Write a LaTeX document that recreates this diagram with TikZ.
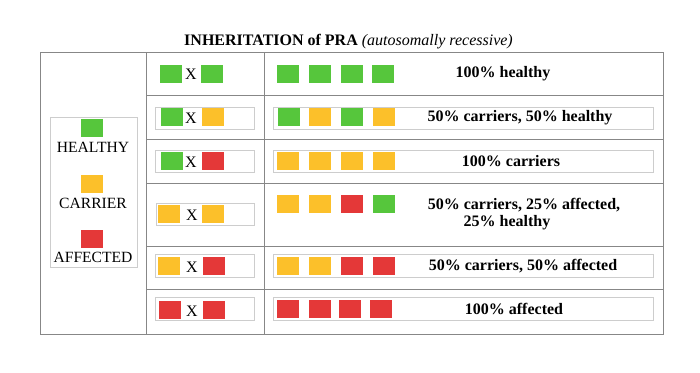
\documentclass[tikz,border=0pt]{standalone}
\usepackage{fontspec}
\setmainfont{Liberation Serif}
\definecolor{hgreen}{RGB}{86,198,60}
\definecolor{corange}{RGB}{252,192,42}
\definecolor{ared}{RGB}{228,56,56}
\definecolor{gridgray}{RGB}{135,135,135}
\definecolor{boxgray}{RGB}{205,205,205}
\newcommand{\csq}[4]{\node[sqbox, fill=#2] (#1) at (#3,#4) {};}
\begin{document}
\begin{tikzpicture}[x=1pt,y=-1pt,
  sqbox/.style={minimum width=22pt, minimum height=18pt, inner sep=0pt, outer sep=0pt, draw=none, anchor=north west},
  grid/.style={draw=gridgray, line width=1pt},
  inbox/.style={draw=boxgray, line width=0.8pt, fill=white},
  restxt/.style={font=\fontsize{16}{18}\selectfont\bfseries, inner sep=0pt},
  legtxt/.style={font=\fontsize{15.6}{18}\selectfont, inner sep=0pt},
  xtxt/.style={font=\fontsize{16}{18}\selectfont, inner sep=0pt}]
\useasboundingbox (0,0) rectangle (700,372);
\fill[white] (0,0) rectangle (700,372);
% title
\node[inner sep=0pt, font=\fontsize{16}{18}\selectfont] (title) at (348.5,42)
  {\textbf{INHERITATION of PRA} \textit{(autosomally recessive)}};
% table grid
\draw[grid] (40,52) rectangle (663,334);
\draw[grid] (146,52) -- (146,334);
\draw[grid] (264,52) -- (264,334);
\foreach \yy in {95,139,183,246,289} \draw[grid] (146,\yy) -- (663,\yy);
% legend
\draw[inbox] (50,117) rectangle (137,267);
\csq{lg}{hgreen}{81}{119}
\node[legtxt] (lgt) at (93,147) {HEALTHY};
\csq{lo}{corange}{81}{175}
\node[legtxt] (lot) at (93,203) {CARRIER};
\csq{lr}{ared}{81}{230}
\node[legtxt] (lrt) at (93,257) {AFFECTED};
% inner boxes
\draw[inbox] (155,107) rectangle (254,129);
\draw[inbox] (273,107) rectangle (653,129);
\draw[inbox] (155,150) rectangle (254,172);
\draw[inbox] (273,150) rectangle (653,172);
\draw[inbox] (156,203) rectangle (254,225);
\draw[inbox] (155,254) rectangle (254,277);
\draw[inbox] (273,254) rectangle (653,277);
\draw[inbox] (155,297) rectangle (254,320);
\draw[inbox] (273,297) rectangle (653,320);
% row 1
\csq{a1}{hgreen}{160}{65}
\node[xtxt] (x1) at (191,74) {X};
\csq{b1}{hgreen}{201}{65}
\csq{c11}{hgreen}{277}{65}
\csq{c12}{hgreen}{309}{65}
\csq{c13}{hgreen}{341}{65}
\csq{c14}{hgreen}{372}{65}
\node[restxt] (t1) at (503,74) {100\% healthy};
% row 2
\csq{a2}{hgreen}{161}{108}
\node[xtxt] (x2) at (191,118) {X};
\csq{b2}{corange}{202}{108}
\csq{c21}{hgreen}{278}{108}
\csq{c22}{corange}{309}{108}
\csq{c23}{hgreen}{341}{108}
\csq{c24}{corange}{373}{108}
\node[restxt] (t2) at (520,118) {50\% carriers, 50\% healthy};
% row 3
\csq{a3}{hgreen}{161}{152}
\node[xtxt] (x3) at (191,162) {X};
\csq{b3}{ared}{202}{152}
\csq{c31}{corange}{277}{152}
\csq{c32}{corange}{309}{152}
\csq{c33}{corange}{341}{152}
\csq{c34}{corange}{373}{152}
\node[restxt] (t3) at (511,161) {100\% carriers};
% row 4
\csq{a4}{corange}{158}{205}
\node[xtxt] (x4) at (192,215) {X};
\csq{b4}{corange}{202}{205}
\csq{c41}{corange}{277}{195}
\csq{c42}{corange}{309}{195}
\csq{c43}{ared}{341}{195}
\csq{c44}{hgreen}{373}{195}
\node[restxt] (t4a) at (524,205) {50\% carriers, 25\% affected,};
\node[restxt] (t4b) at (507,223) {25\% healthy};
% row 5
\csq{a5}{corange}{158}{257}
\node[xtxt] (x5) at (192,267) {X};
\csq{b5}{ared}{203}{257}
\csq{c51}{corange}{277}{257}
\csq{c52}{corange}{309}{257}
\csq{c53}{ared}{341}{257}
\csq{c54}{ared}{373}{257}
\node[restxt] (t5) at (523,266) {50\% carriers, 50\% affected};
% row 6
\csq{a6}{ared}{159}{301}
\node[xtxt] (x6) at (192,311) {X};
\csq{b6}{ared}{203}{301}
\csq{c61}{ared}{277}{300}
\csq{c62}{ared}{309}{300}
\csq{c63}{ared}{339}{300}
\csq{c64}{ared}{370}{300}
\node[restxt] (t6) at (514,309) {100\% affected};
\end{tikzpicture}
\end{document}
